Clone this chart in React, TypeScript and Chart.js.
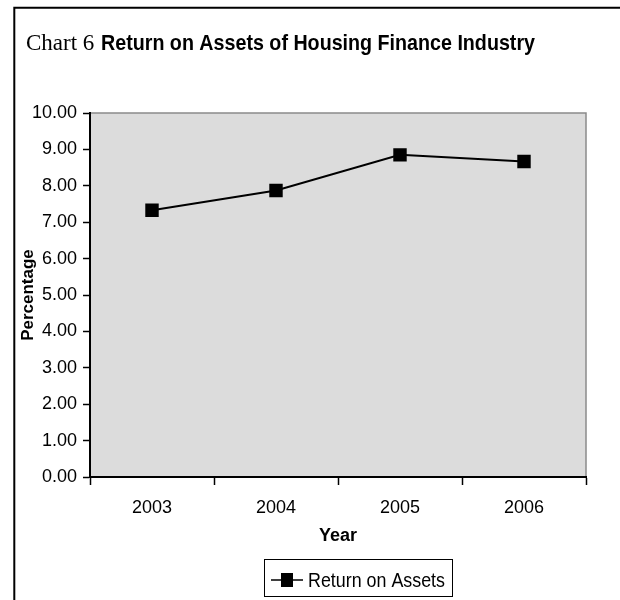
import React, { useEffect, useRef } from "react";
import { Chart, registerables } from "chart.js";

Chart.register(...registerables);

const years = ["2003", "2004", "2005", "2006"];
const returnOnAssets = [7.33, 7.87, 8.85, 8.67];
const seriesLabel = "Return on Assets";
const titlePrefix = "Chart 6";
const titleMain = "Return on Assets of Housing Finance Industry";
const yAxisTitle = "Percentage";
const xAxisTitle = "Year";

const SANS = '"Liberation Sans", Arial, sans-serif';
const SERIF = '"Liberation Serif", "Times New Roman", serif';

const decorPlugin = {
  id: "decor",
  beforeDraw(chart: any) {
    const { ctx, chartArea } = chart;
    ctx.save();
    ctx.fillStyle = "#ffffff";
    ctx.fillRect(0, 0, chart.width, chart.height);
    // plot area
    ctx.fillStyle = "#dcdcdc";
    ctx.fillRect(chartArea.left, chartArea.top, chartArea.right - chartArea.left, chartArea.bottom - chartArea.top);
    ctx.strokeStyle = "#8a8a8a";
    ctx.lineWidth = 1.5;
    ctx.beginPath();
    ctx.moveTo(chartArea.left, chartArea.top);
    ctx.lineTo(chartArea.right, chartArea.top);
    ctx.lineTo(chartArea.right, chartArea.bottom);
    ctx.stroke();
    // outer frame
    ctx.strokeStyle = "#000000";
    ctx.lineWidth = 2;
    ctx.beginPath();
    ctx.moveTo(14.3, chart.height);
    ctx.lineTo(14.3, 7.7);
    ctx.lineTo(chart.width, 7.7);
    ctx.stroke();
    // title
    ctx.fillStyle = "#000000";
    ctx.textBaseline = "alphabetic";
    ctx.textAlign = "left";
    ctx.font = `23px ${SERIF}`;
    ctx.fillText(titlePrefix, 26, 50);
    ctx.font = `bold 22px ${SANS}`;
    const w = ctx.measureText(titleMain).width;
    const target = 434;
    ctx.save();
    ctx.translate(101, 50);
    ctx.scale(target / w, 1);
    ctx.fillText(titleMain, 0, 0);
    ctx.restore();
    ctx.restore();
  },
  afterDraw(chart: any) {
    const { ctx } = chart;
    ctx.save();
    // legend box
    const bx = 264.5, by = 559.5, bw = 188, bh = 37;
    ctx.strokeStyle = "#000000";
    ctx.lineWidth = 1;
    ctx.strokeRect(bx, by, bw, bh);
    const cy = 580;
    ctx.lineWidth = 1.5;
    ctx.beginPath();
    ctx.moveTo(271, cy);
    ctx.lineTo(303, cy);
    ctx.stroke();
    ctx.fillStyle = "#000000";
    ctx.fillRect(281, cy - 7, 12, 14);
    ctx.font = `21px ${SANS}`;
    ctx.textBaseline = "middle";
    ctx.textAlign = "left";
    const tw = ctx.measureText(seriesLabel).width;
    ctx.save();
    ctx.translate(308, cy + 1);
    ctx.scale(137 / tw, 1);
    ctx.fillText(seriesLabel, 0, 0);
    ctx.restore();
    ctx.restore();
  },
};

export default function App() {
  const ref = useRef<HTMLCanvasElement>(null);
  useEffect(() => {
    if (!ref.current) return;
    const chart = new Chart(ref.current, {
      type: "line",
      data: {
        labels: years,
        datasets: [
          {
            label: seriesLabel,
            data: returnOnAssets,
            borderColor: "#000000",
            backgroundColor: "#000000",
            borderWidth: 2,
            pointStyle: "rect",
            pointRadius: 9.5,
            pointBorderWidth: 0,
            pointBackgroundColor: "#000000",
            tension: 0,
          },
        ],
      },
      options: {
        responsive: false,
        animation: false,
        layout: { padding: { left: 14, top: 113, right: 34, bottom: 0 } },
        plugins: {
          legend: { display: false },
          tooltip: { enabled: false },
          title: { display: false },
        },
        scales: {
          x: {
            offset: true,
            grid: {
              display: true,
              drawOnChartArea: false,
              drawTicks: true,
              tickLength: 8,
              tickColor: "#000000",
              tickWidth: 1.5,
              offset: true,
            },
            border: { display: true, color: "#000000", width: 2 },
            ticks: {
              color: "#000000",
              font: { family: SANS, size: 18 },
              padding: 12,
              maxRotation: 0,
            },
            title: {
              display: true,
              text: xAxisTitle,
              color: "#000000",
              font: { family: SANS, size: 18, weight: "bold" },
              padding: { top: 0, bottom: 53 },
            },
            afterFit(scale: any) {
              scale.height = 123;
            },
          },
          y: {
            min: 0,
            max: 10,
            grid: {
              display: true,
              drawOnChartArea: false,
              drawTicks: true,
              tickLength: 7,
              tickColor: "#000000",
              tickWidth: 1.5,
            },
            border: { display: true, color: "#000000", width: 2 },
            ticks: {
              stepSize: 1,
              color: "#000000",
              font: { family: SANS, size: 18 },
              padding: 6,
              callback: (v: any) => Number(v).toFixed(2),
            },
            title: {
              display: true,
              text: yAxisTitle,
              color: "#000000",
              font: { family: SANS, size: 17, weight: "bold" },
              padding: { top: 4, bottom: 0 },
            },
            afterFit(scale: any) {
              scale.width = 76;
            },
          },
        },
      },
      plugins: [decorPlugin],
    });
    return () => chart.destroy();
  }, []);
  return (
    <div style={{ position: "fixed", left: 0, top: 0, width: 620, height: 600 }}>
      <canvas ref={ref} width={620} height={600} style={{ width: 620, height: 600 }} />
    </div>
  );
}
